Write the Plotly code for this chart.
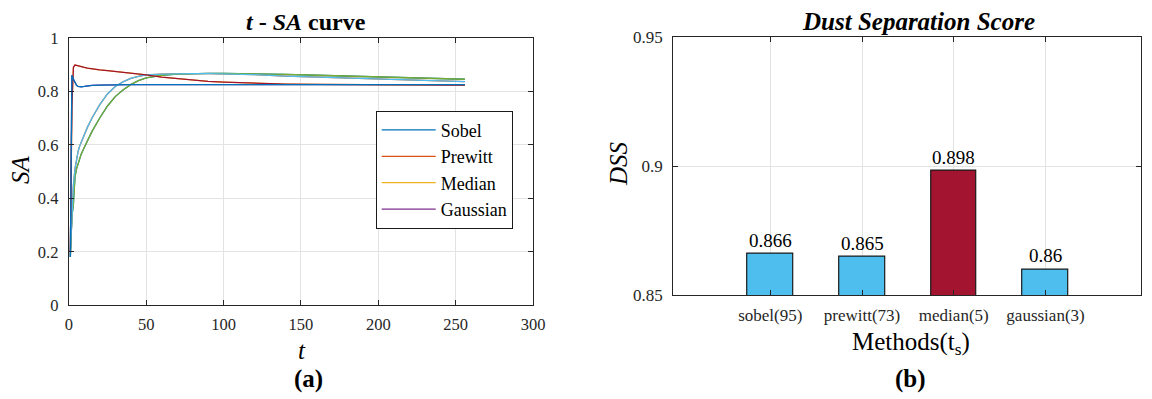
import plotly.graph_objects as go

# page body has an 8px margin; figure is sized/offset so it lands on the 1152x399 window
OFF = 8
W, H = 1152 - OFF, 399 - OFF

# ---------------- data ----------------
t_vals = [1, 2, 3, 4, 5, 6, 7, 8, 10, 12, 15, 20, 25, 30, 35, 40, 45, 50,
          60, 70, 80, 90, 100, 120, 140, 160, 180, 200, 220, 240, 256]

sobel_sa = [0.18, 0.33, 0.38, 0.48, 0.51, 0.53, 0.55, 0.565, 0.59, 0.615, 0.65, 0.70,
            0.745, 0.78, 0.805, 0.825, 0.84, 0.85, 0.86, 0.864, 0.866, 0.867, 0.867,
            0.866, 0.863, 0.86, 0.857, 0.853, 0.85, 0.847, 0.845]
prewitt_sa = [0.20, 0.36, 0.45, 0.51, 0.55, 0.575, 0.595, 0.61, 0.635, 0.665, 0.70, 0.75,
              0.79, 0.818, 0.835, 0.848, 0.856, 0.861, 0.864, 0.866, 0.866, 0.866, 0.865,
              0.862, 0.857, 0.853, 0.849, 0.846, 0.842, 0.839, 0.836]
median_sa = [0.20, 0.75, 0.89, 0.898, 0.897, 0.895, 0.893, 0.891, 0.889, 0.887, 0.884, 0.88,
             0.877, 0.874, 0.871, 0.868, 0.865, 0.861, 0.853, 0.847, 0.841, 0.837, 0.834,
             0.830, 0.827, 0.826, 0.825, 0.824, 0.824, 0.823, 0.823]
gaussian_sa = [0.18, 0.86, 0.845, 0.83, 0.822, 0.818, 0.817, 0.817, 0.818, 0.82, 0.822, 0.823,
               0.824, 0.825, 0.825, 0.825, 0.825, 0.825, 0.825, 0.825, 0.825, 0.825, 0.825,
               0.825, 0.825, 0.825, 0.825, 0.825, 0.825, 0.825, 0.825]

series_names = ["Sobel", "Prewitt", "Median", "Gaussian"]
series_data = [sobel_sa, prewitt_sa, median_sa, gaussian_sa]
first_colors = ["#0072BD", "#D95319", "#EDB120", "#7E2F8E"]
second_colors = ["#77AC30", "#4DBEEE", "#A2142F", "#0072BD"]

x_ticks_a = [0, 50, 100, 150, 200, 250, 300]
y_ticks_a = [0, 0.2, 0.4, 0.6, 0.8, 1]
y_ticklabels_a = ["0", "0.2", "0.4", "0.6", "0.8", "1"]

methods = ["sobel(95)", "prewitt(73)", "median(5)", "gaussian(3)"]
method_pos = [1, 2, 3, 4]
dss = [0.866, 0.865, 0.898, 0.860]
dss_labels = ["0.866", "0.865", "0.898", "0.86"]
bar_colors = ["#4DBEEE", "#4DBEEE", "#A2142F", "#4DBEEE"]
y_ticks_b = [0.85, 0.9, 0.95]
y_ticklabels_b = ["0.85", "0.9", "0.95"]

FONT = "Liberation Serif"
AXC = "#262626"
GRID = "#e3e3e3"


def px(x):
    return (x - OFF) / W


def py(y):
    return 1 - (y - OFF) / H


fig = go.Figure()

for name, data, col in zip(series_names, series_data, first_colors):
    fig.add_trace(go.Scatter(x=t_vals, y=data, mode="lines", name=name,
                             line=dict(color=col, width=1.3),
                             xaxis="x", yaxis="y"))
for name, data, col in zip(series_names, series_data, second_colors):
    fig.add_trace(go.Scatter(x=t_vals, y=data, mode="lines", name=name,
                             showlegend=False,
                             line=dict(color=col, width=1.3),
                             xaxis="x", yaxis="y"))

fig.add_trace(go.Bar(x=method_pos, y=dss, width=0.5,
                     marker=dict(color=bar_colors, line=dict(color="#1a1a1a", width=1.2)),
                     showlegend=False, xaxis="x2", yaxis="y2"))


def axis_common(size):
    return dict(showline=True, linecolor=AXC, linewidth=1.2, mirror="ticks",
                ticks="inside", ticklen=5, tickwidth=1.2, tickcolor=AXC,
                showgrid=True, gridcolor=GRID, gridwidth=1, zeroline=False,
                automargin=False,
                tickfont=dict(family=FONT, size=size, color=AXC))


fig.update_layout(
    template="none",
    width=W, height=H,
    margin=dict(l=0, r=0, t=0, b=0, pad=0),
    autosize=False,
    paper_bgcolor="white", plot_bgcolor="white",
    font=dict(family=FONT, color="black"),
    showlegend=True,
    xaxis=dict(domain=[px(68.8), px(533)], range=[0, 300], tickvals=x_ticks_a,
               ticklabelstandoff=4, anchor="y", **axis_common(16.5)),
    yaxis=dict(domain=[py(305.2), py(37.8)], range=[0, 1], tickvals=y_ticks_a,
               ticktext=y_ticklabels_a, ticklabelstandoff=6, anchor="x", **axis_common(16.5)),
    xaxis2=dict(domain=[px(673.3), px(1141.3)], range=[-0.057, 5.044], tickvals=method_pos,
                ticktext=methods, ticklabelstandoff=4, anchor="y2", **axis_common(17)),
    yaxis2=dict(domain=[py(295.3), py(36.7)], range=[0.85, 0.95], tickvals=y_ticks_b,
                ticktext=y_ticklabels_b, ticklabelstandoff=6, anchor="x2", **axis_common(17)),
    legend=dict(x=px(512.7), y=py(110.7), xanchor="right", yanchor="top",
                bgcolor="white", bordercolor="#1a1a1a", borderwidth=1,
                font=dict(family=FONT, size=18, color="black"),
                itemwidth=54, tracegroupgap=0),
    bargap=0,
)

anns = []
for xp, v, lab in zip(method_pos, dss, dss_labels):
    anns.append(dict(x=xp, y=v, xref="x2", yref="y2", text=lab, showarrow=False,
                     yanchor="bottom", yshift=1,
                     font=dict(family=FONT, size=19, color="black")))

extra = [
    (306, 22, "<b><i>t</i> - <i>SA</i> curve</b>", 24, 0),
    (918, 21, "<b><i>Dust Separation Score</i></b>", 25, 0),
    (20, 170, "<i>SA</i>", 25, -90),
    (302, 350, "<i>t</i>", 25, 0),
    (618, 164, "<i>DSS</i>", 25, -90),
    (911, 343, "Methods(t<sub>s</sub>)", 25, 0),
    (308, 379, "<b>(a)</b>", 25, 0),
    (910, 379, "<b>(b)</b>", 25, 0),
]
for x, y, txt, sz, ang in extra:
    anns.append(dict(x=px(x), y=py(y), xref="paper", yref="paper", text=txt,
                     showarrow=False, xanchor="center", yanchor="middle", textangle=ang,
                     font=dict(family=FONT, size=sz, color="black")))

fig.update_layout(annotations=anns)
fig.write_html("out.html")
